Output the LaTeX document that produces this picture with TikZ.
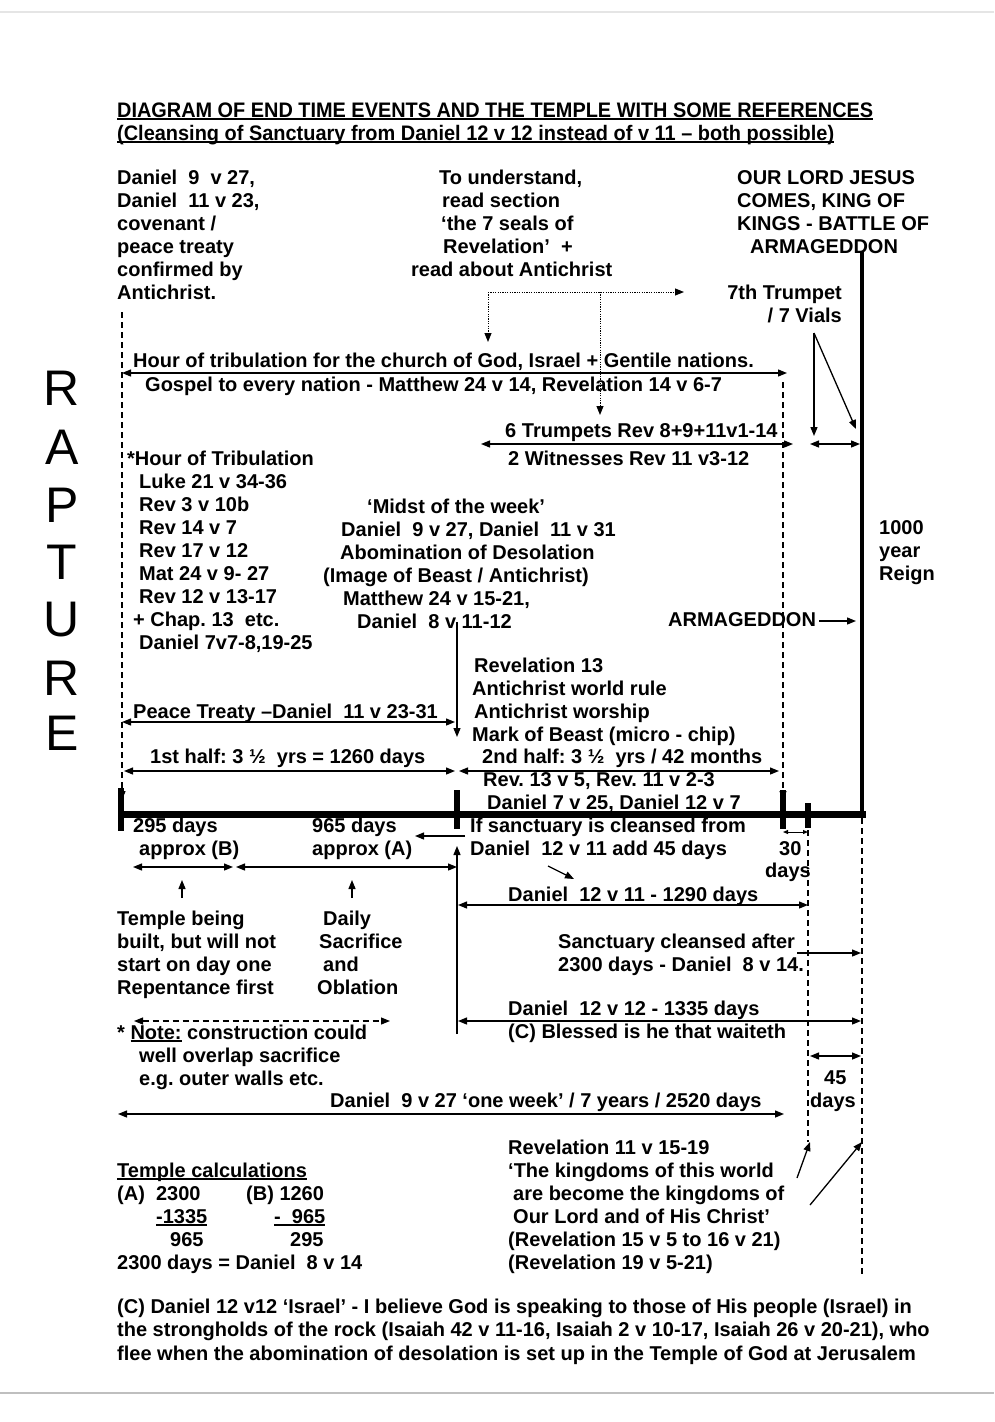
\documentclass[tikz,border=0pt]{standalone}
\usepackage{fontspec}
\setmainfont{Liberation Sans}
\usetikzlibrary{arrows.meta}
\frenchspacing
\newcommand\bodyfont{\fontsize{20}{23}\selectfont\bfseries\frenchspacing}
\newcommand\blk[1]{\begin{tabular}[t]{@{}l@{}}#1\end{tabular}}
\newcommand\blkr[1]{\begin{tabular}[t]{@{}r@{}}#1\end{tabular}}
\newcommand\myul[1]{\setbox0=\hbox{#1}\rlap{\rule[-2.8pt]{\wd0}{1.4pt}}\box0\relax}
\begin{document}
\begin{tikzpicture}[x=1pt,y=-1pt,
 txt/.style={inner sep=0pt,anchor=base west,font=\bodyfont},
 big/.style={inner sep=0pt,font=\fontsize{50}{50}\selectfont},
 arr/.style={line width=1.3pt,-{Triangle[length=9pt,width=7pt]}},
 darr/.style={line width=1.3pt,{Triangle[length=9pt,width=7pt]}-{Triangle[length=9pt,width=7pt]}},
 sdarr/.style={line width=1pt,{Triangle[length=5pt,width=4pt]}-{Triangle[length=5pt,width=4pt]}},
 dashln/.style={line width=1.2pt,dash pattern=on 6pt off 4pt},
 dotln/.style={line width=1pt,dash pattern=on 1.2pt off 1.2pt},
 tickmk/.style={line width=6pt},
 plainln/.style={line width=1.3pt}]
\useasboundingbox (0,0) rectangle (994,1422);
\fill[white] (0,0) rectangle (994,1422);
% page edges
\coordinate (pgA) at (0,12); \coordinate (pgB) at (994,12);
\coordinate (pgC) at (0,1393); \coordinate (pgD) at (994,1393);
\draw[gray!20,line width=1.5pt] (pgA) -- (pgB);
\draw[gray!50,line width=1.5pt] (pgC) -- (pgD);

% ---------- coordinates ----------
\coordinate (dA) at (488,292); \coordinate (dB) at (684,292); \coordinate (dC) at (488,342);
\coordinate (dD) at (600,292); \coordinate (dE) at (600,415);
\coordinate (lA) at (122,312); \coordinate (lB) at (122,800);
\coordinate (hA) at (122,373); \coordinate (hB) at (787,373);
\coordinate (rA) at (783,382); \coordinate (rB) at (783,800);
\coordinate (tA) at (481,444); \coordinate (tB) at (793,444);
\coordinate (vA) at (814,333); \coordinate (vB) at (814,436); \coordinate (vC) at (856,429);
\coordinate (vD) at (810,444); \coordinate (vE) at (860,444);
\coordinate (mA) at (457,622); \coordinate (mB) at (457,737);
\coordinate (aA) at (819,621); \coordinate (aB) at (856,621);
\coordinate (pA) at (122,722); \coordinate (pB) at (455,722);
\coordinate (fA) at (124,771); \coordinate (fB) at (455,771);
\coordinate (sA) at (459,771); \coordinate (sB) at (779,771);
\coordinate (lineA) at (118,814); \coordinate (lineB) at (866,814);
\coordinate (k1a) at (121,788); \coordinate (k1b) at (121,831);
\coordinate (k2a) at (457,790); \coordinate (k2b) at (457,829);
\coordinate (k3a) at (783,790); \coordinate (k3b) at (783,829);
\coordinate (k4a) at (808,803); \coordinate (k4b) at (808,828);
\coordinate (KA) at (862,252); \coordinate (KB) at (862,816);
\coordinate (bA) at (465,836); \coordinate (bB) at (415,836);
\coordinate (uA) at (457,1034); \coordinate (uB) at (457,846);
\coordinate (gA) at (548,866); \coordinate (gB) at (574,879);
\coordinate (cA) at (783,832); \coordinate (cB) at (808,832);
\coordinate (DA) at (808,830); \coordinate (DB) at (808,1142);
\coordinate (EA) at (862,818); \coordinate (EB) at (862,1274);
\coordinate (wA) at (133,867); \coordinate (wB) at (233,867);
\coordinate (wC) at (236,867); \coordinate (wD) at (457,867);
\coordinate (xA) at (182,898); \coordinate (xB) at (182,880);
\coordinate (yA) at (352,898); \coordinate (yB) at (352,880);
\coordinate (oA) at (458,905); \coordinate (oB) at (808,905);
\coordinate (qA) at (797,953); \coordinate (qB) at (861,953);
\coordinate (zA) at (458,1021); \coordinate (zB) at (861,1021);
\coordinate (nA) at (134,1021); \coordinate (nB) at (390,1021);
\coordinate (eA) at (810,1056); \coordinate (eB) at (861,1056);
\coordinate (jA) at (118,1114); \coordinate (jB) at (784,1114);
\coordinate (iA) at (797,1178); \coordinate (iB) at (810,1142);
\coordinate (iC) at (810,1205); \coordinate (iD) at (862,1142);

% ---------- title ----------
\node[txt] (title1) at (117,117) {\fontsize{21}{23}\selectfont\bfseries\resizebox{756pt}{\height}{\myul{DIAGRAM OF END TIME EVENTS AND THE TEMPLE WITH SOME REFERENCES}}};
\node[txt] (title2) at (117,140) {\fontsize{21}{23}\selectfont\bfseries\resizebox{717pt}{\height}{\myul{(Cleansing of Sanctuary from Daniel 12 v 12 instead of v 11 – both possible)}}};

% ---------- RAPTURE ----------
\node[big] (rpR) at (62,388) {R};
\node[big] (rpA) at (62,447) {A};
\node[big] (rpP) at (62,505) {P};
\node[big] (rpT) at (62,562) {T};
\node[big] (rpU) at (62,620) {U};
\node[big] (rpR2) at (62,678) {R};
\node[big] (rpE) at (62,733) {E};

% ---------- top texts ----------
\node[txt] (covenant) at (117,184) {\blk{Daniel~ 9~ v 27,\\Daniel~ 11 v 23,\\covenant /\\peace treaty\\confirmed by\\Antichrist.}};
\node[txt] (understand) at (411,184) {\blk{\hspace*{28pt}To understand,\\\hspace*{31pt}read section\\\hspace*{30pt}‘the 7 seals of\\\hspace*{32pt}Revelation’~ +\\read about Antichrist}};
\node[txt] (lord) at (737,184) {\blk{OUR LORD JESUS\\COMES, KING OF\\KINGS - BATTLE OF\\\hspace*{13pt}ARMAGEDDON}};
\node[txt,anchor=base east] (trumpet7) at (842,299) {\blkr{7th Trumpet\\/ 7 Vials}};

\node[txt] (hour) at (133,367) {Hour of tribulation for the church of God, Israel + Gentile nations.};
\node[txt] (gospel) at (145,391) {Gospel to every nation - Matthew 24 v 14, Revelation 14 v 6-7};
\node[txt] (trumpets6) at (505,437) {6 Trumpets Rev 8+9+11v1-14};
\node[txt] (witness) at (508,465) {2 Witnesses Rev 11 v3-12};

\node[txt] (hourtrib) at (127,465) {*Hour of Tribulation};
\node[txt] (refs) at (139,488) {\blk{Luke 21 v 34-36\\Rev 3 v 10b\\Rev 14 v 7\\Rev 17 v 12\\Mat 24 v 9- 27\\Rev 12 v 13-17\\\hspace*{-6pt}+ Chap. 13~ etc.\\Daniel 7v7-8,19-25}};
\node[txt] (midst) at (323,513) {\blk{\hspace*{44pt}‘Midst of the week’\\\hspace*{18pt}Daniel~ 9 v 27, Daniel~ 11 v 31\\\hspace*{17pt}Abomination of Desolation\\(Image of Beast / Antichrist)\\\hspace*{20pt}Matthew 24 v 15-21,\\\hspace*{34pt}Daniel~ 8 v 11-12}};
\node[txt] (reign) at (879,534) {\blk{1000\\year\\Reign}};
\node[txt] (armag) at (668,626) {ARMAGEDDON};
\node[txt] (rev13) at (472,672) {\blk{\hspace*{2pt}Revelation 13\\Antichrist world rule\\\hspace*{2pt}Antichrist worship\\Mark of Beast (micro - chip)}};

\node[txt] (peace) at (133,718) {Peace Treaty –Daniel~ 11 v 23-31};
\node[txt] (half1) at (150,763) {1st half: 3 ½~ yrs = 1260 days};
\node[txt] (half2) at (482,763) {2nd half: 3 ½~ yrs / 42 months};
\node[txt] (rev135) at (483,786) {Rev. 13 v 5, Rev. 11 v 2-3};
\node[txt] (dan725) at (487,809) {Daniel 7 v 25, Daniel 12 v 7};

% below timeline
\node[txt] (d295) at (133,832) {\blk{295 days\\\hspace*{6pt}approx (B)}};
\node[txt] (d965) at (312,832) {\blk{965 days\\approx (A)}};
\node[txt] (ifsanct) at (470,832) {\blk{If sanctuary is cleansed from\\Daniel~ 12 v 11 add 45 days}};
\node[txt] (d30) at (779,855) {30};
\node[txt] (d30days) at (765,877) {days};
\node[txt] (temple) at (117,925) {\blk{Temple being\\built, but will not\\start on day one\\Repentance first}};
\node[txt] (daily) at (317,925) {\blk{\hspace*{6pt}Daily\\\hspace*{2pt}Sacrifice\\\hspace*{6pt}and\\Oblation}};
\node[txt] (d1290) at (508,901) {Daniel~ 12 v 11 - 1290 days};
\node[txt] (sanct) at (558,948) {\blk{Sanctuary cleansed after\\2300 days - Daniel~ 8 v 14.}};
\node[txt] (d1335) at (508,1015) {\blk{Daniel~ 12 v 12 - 1335 days\\(C) Blessed is he that waiteth}};
\node[txt] (note) at (117,1039) {\blk{* \myul{Note:} construction could\\\hspace*{22pt}well overlap sacrifice\\\hspace*{22pt}e.g. outer walls etc.}};
\node[txt] (d45) at (824,1084) {45};
\node[txt] (d45days) at (810,1107) {days};
\node[txt] (d2520) at (330,1107) {Daniel~ 9 v 27 ‘one week’ / 7 years / 2520 days};
\node[txt] (rev11) at (508,1154) {\blk{Revelation 11 v 15-19\\‘The kingdoms of this world\\\hspace*{5pt}are become the kingdoms of\\\hspace*{5pt}Our Lord and of His Christ’\\(Revelation 15 v 5 to 16 v 21)\\(Revelation 19 v 5-21)}};

\node[txt] (tcalc) at (117,1177) {\myul{Temple calculations}};
\node[txt] (calcA) at (117,1200) {(A)~ 2300};
\node[txt] (calcB) at (246,1200) {(B) 1260};
\node[txt] (calcA2) at (156,1223) {\myul{-1335}};
\node[txt] (calcB2) at (274,1223) {\myul{-~ 965}};
\node[txt] (calcA3) at (170,1246) {965};
\node[txt] (calcB3) at (290,1246) {295};
\node[txt] (calcD) at (117,1269) {2300 days = Daniel~ 8 v 14};

\node[txt,font=\fontsize{20}{23.5}\selectfont\bfseries\frenchspacing] (para) at (117,1313) {\blk{(C) Daniel 12 v12 ‘Israel’ - I believe God is speaking to those of His people (Israel) in\\the strongholds of the rock (Isaiah 42 v 11-16, Isaiah 2 v 10-17, Isaiah 26 v 20-21), who\\flee when the abomination of desolation is set up in the Temple of God at Jerusalem}};

% ---------- connectors ----------
\draw[dotln,-{Triangle[length=9pt,width=7pt]}] (dA) -- (dB);
\draw[dotln,-{Triangle[length=9pt,width=7pt]}] (dA) -- (dC);
\draw[dotln,-{Triangle[length=9pt,width=7pt]}] (dD) -- (dE);
\draw[dashln,-{Triangle[length=9pt,width=7pt]}] (lA) -- (lB);
\draw[dashln,-{Triangle[length=9pt,width=7pt]}] (rA) -- (rB);
\draw[darr] (hA) -- (hB);
\draw[darr] (tA) -- (tB);
\draw[arr] (vA) -- (vB);
\draw[arr] (vA) -- (vC);
\draw[darr] (vD) -- (vE);
\draw[arr] (mA) -- (mB);
\draw[arr] (aA) -- (aB);
\draw[darr] (pA) -- (pB);
\draw[darr] (fA) -- (fB);
\draw[darr] (sA) -- (sB);
\draw[line width=4pt] (KA) -- (KB);
\draw[line width=7pt] (lineA) -- (lineB);
\draw[tickmk] (k1a) -- (k1b);
\draw[tickmk] (k2a) -- (k2b);
\draw[tickmk] (k3a) -- (k3b);
\draw[tickmk] (k4a) -- (k4b);
\draw[arr] (bA) -- (bB);
\draw[arr] (uA) -- (uB);
\draw[arr] (gA) -- (gB);
\draw[sdarr] (cA) -- (cB);
\draw[dashln] (DA) -- (DB);
\draw[dashln] (EA) -- (EB);
\draw[darr] (wA) -- (wB);
\draw[darr] (wC) -- (wD);
\draw[arr] (xA) -- (xB);
\draw[arr] (yA) -- (yB);
\draw[darr] (oA) -- (oB);
\draw[arr] (qA) -- (qB);
\draw[darr] (zA) -- (zB);
\draw[dashln,{Triangle[length=9pt,width=7pt]}-{Triangle[length=9pt,width=7pt]}] (nA) -- (nB);
\draw[darr] (eA) -- (eB);
\draw[darr] (jA) -- (jB);
\draw[arr] (iA) -- (iB);
\draw[arr] (iC) -- (iD);
\end{tikzpicture}
\end{document}
